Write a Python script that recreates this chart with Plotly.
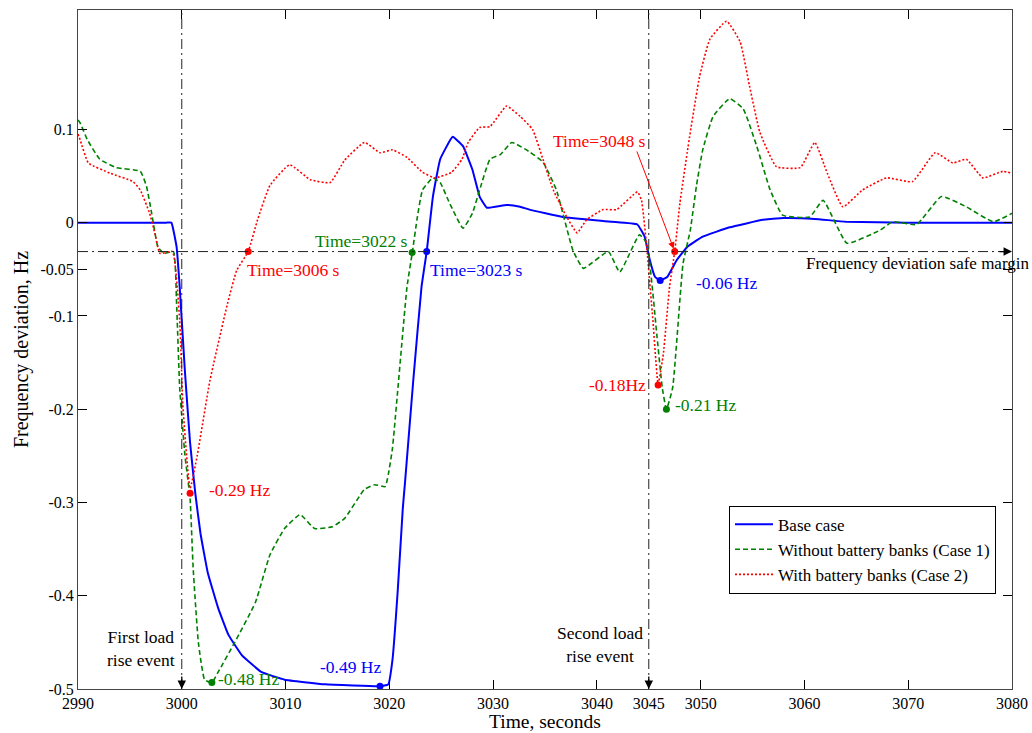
import plotly.graph_objects as go

# ---------------- data ----------------
base_t = [2990, 2998.5, 2999.0, 2999.5, 2999.8, 3000.3, 3000.8, 3001.3, 3001.8, 3002.5, 3003.5, 3004.5,
          3005.8, 3007.7, 3009.9, 3013.8, 3019.1, 3019.9, 3020.3, 3020.8, 3021.3, 3021.5, 3022.3, 3023.1,
          3023.6, 3024.2, 3024.9, 3026.1, 3027.1, 3028.0, 3028.7, 3029.4, 3031.3, 3032.6, 3033.5,
          3036.7, 3041.4, 3043.9, 3044.6, 3045.1, 3045.6, 3046.1, 3046.8, 3047.7, 3048.7, 3050.2,
          3052.8, 3056.0, 3058.0, 3061.0, 3064.0, 3070.0, 3080]
base_v = [0, 0, 0, -0.026, -0.069, -0.159, -0.236, -0.29, -0.333, -0.375, -0.413, -0.442,
          -0.464, -0.482, -0.49, -0.495, -0.497, -0.495, -0.469, -0.396, -0.306, -0.28, -0.17, -0.069,
          -0.031, 0.028, 0.068, 0.092, 0.082, 0.057, 0.028, 0.016, 0.019, 0.017, 0.014,
          0.006, 0.001, -0.002, -0.015, -0.04, -0.058, -0.062, -0.058, -0.04, -0.026, -0.015,
          -0.005, 0.003, 0.005, 0.004, 0.001, 0.0, 0.0]

case1_t = [2990.0, 2990.2, 2990.9, 2992.1, 2993.7, 2996.0, 2996.6, 2997.1, 2997.7, 2998.3, 2999.2,
           2999.5, 2999.8, 3000.3, 3000.8, 3001.1, 3001.6, 3002.2, 3002.9, 3003.5, 3005.1, 3007.1,
           3008.5, 3009.9, 3011.4, 3012.8, 3014.5, 3015.7, 3017.6, 3018.6, 3019.6, 3019.9, 3020.3,
           3021.7, 3022.2, 3022.7, 3023.2, 3024.2, 3024.9, 3025.8, 3027.1, 3028.0, 3028.7, 3029.7,
           3030.7, 3031.8, 3033.5, 3034.8, 3036.1, 3037.7, 3038.7, 3041.1, 3042.2, 3044.1, 3044.8,
           3045.8, 3046.3, 3046.7, 3047.3, 3048.3, 3049.0, 3049.6, 3050.2, 3051.2, 3052.8, 3054.1,
           3055.4, 3056.7, 3057.9, 3060.5, 3061.8, 3064.1, 3067.3, 3068.5, 3070.8, 3073.2, 3075.6,
           3078.2, 3080.0]
case1_v = [0.11, 0.107, 0.089, 0.068, 0.059, 0.055, 0.039, 0.01, -0.026, -0.033, -0.031,
           -0.087, -0.177, -0.249, -0.296, -0.371, -0.45, -0.49, -0.493, -0.482, -0.45, -0.407,
           -0.356, -0.328, -0.313, -0.328, -0.326, -0.317, -0.286, -0.281, -0.283, -0.27, -0.242,
           -0.069, -0.033, 0.006, 0.035, 0.048, 0.043, 0.021, -0.006, 0.01, 0.035, 0.068,
           0.073, 0.086, 0.076, 0.065, 0.035, -0.03, -0.049, -0.031, -0.053, -0.013, -0.022,
           -0.123, -0.177, -0.2, -0.177, -0.044, -0.008, 0.04, 0.078, 0.114, 0.133, 0.122,
           0.082, 0.035, 0.008, 0.006, 0.024, -0.022, -0.008, 0.001, -0.002, 0.028, 0.017,
           0.001, 0.01]

case2_t = [2990.0, 2990.2, 2991.0, 2993.1, 2995.3, 2996.0, 2996.9, 2997.4, 2997.9, 2999.1, 2999.8,
           3000.1, 3000.8, 3001.5, 3002.7, 3004.4, 3005.3, 3006.4, 3007.3, 3008.5, 3010.4, 3012.4,
           3014.3, 3015.7, 3017.6, 3019.1, 3020.3, 3021.7, 3023.2, 3024.4, 3026.0, 3027.0, 3027.6,
           3028.7, 3029.7, 3031.3, 3032.6, 3033.8, 3034.8, 3035.8, 3037.1, 3038.1, 3039.0, 3040.6,
           3041.9, 3043.9, 3044.3, 3044.8, 3045.4, 3045.9, 3046.4, 3047.0, 3047.5, 3048.0, 3048.7,
           3049.0, 3049.9, 3050.9, 3052.5, 3053.8, 3054.7, 3055.7, 3057.3, 3059.6, 3061.0, 3062.2,
           3063.7, 3065.6, 3067.9, 3070.4, 3072.6, 3074.3, 3075.6, 3077.2, 3079.1, 3080.0]
case2_v = [0.095, 0.089, 0.064, 0.053, 0.044, 0.035, 0.01, -0.011, -0.033, -0.031, -0.105,
           -0.195, -0.285, -0.249, -0.17, -0.087, -0.051, -0.031, 0.003, 0.04, 0.062, 0.046,
           0.043, 0.067, 0.086, 0.075, 0.078, 0.07, 0.054, 0.048, 0.054, 0.068, 0.086,
           0.102, 0.103, 0.125, 0.114, 0.1, 0.068, 0.035, 0.006, -0.011, 0.003, 0.014,
           0.014, 0.033, 0.024, -0.026, -0.105, -0.173, -0.141, -0.069, -0.031, 0.021, 0.075,
           0.097, 0.157, 0.197, 0.216, 0.194, 0.147, 0.097, 0.06, 0.059, 0.086, 0.053,
           0.017, 0.035, 0.048, 0.044, 0.075, 0.064, 0.068, 0.048, 0.055, 0.053]

# highlighted points
base_mark_t = [3019.1, 3023.6, 3046.1]
base_mark_v = [-0.497, -0.031, -0.062]
case1_mark_t = [3002.9, 3022.2, 3046.7]
case1_mark_v = [-0.493, -0.032, -0.2]
case2_mark_t = [3000.8, 3006.4, 3045.9, 3047.5]
case2_mark_v = [-0.29, -0.031, -0.174, -0.031]

safe_margin = -0.031
event_times = [3000, 3045]

x_ticks = [2990, 3000, 3010, 3020, 3030, 3040, 3045, 3050, 3060, 3070, 3080]
y_ticks = [0.1, 0, -0.05, -0.1, -0.2, -0.3, -0.4, -0.5]
y_tick_text = ["0.1", "0", "-0.05", "-0.1", "-0.2", "-0.3", "-0.4", "-0.5"]

BLUE = "#0000ff"
GREEN = "#008000"
RED = "#ff0000"
FONT = "Liberation Serif, Times New Roman, serif"
ANN = 17.5

fig = go.Figure()
fig.add_trace(go.Scatter(x=base_t, y=base_v, mode="lines", name="Base case",
                         line=dict(color=BLUE, width=2, shape="spline", smoothing=0.3)))
fig.add_trace(go.Scatter(x=case1_t, y=case1_v, mode="lines", name="Without battery banks (Case 1)",
                         line=dict(color=GREEN, width=1.6, dash="5px,3px", shape="spline", smoothing=0.4)))
fig.add_trace(go.Scatter(x=case2_t, y=case2_v, mode="lines", name="With battery banks (Case 2)",
                         line=dict(color=RED, width=1.6, dash="2px,2px", shape="spline", smoothing=0.4)))

for mt, mv, col in [(base_mark_t, base_mark_v, BLUE), (case1_mark_t, case1_mark_v, GREEN),
                    (case2_mark_t, case2_mark_v, RED)]:
    fig.add_trace(go.Scatter(x=mt, y=mv, mode="markers", showlegend=False,
                             marker=dict(color=col, size=7, line=dict(width=0))))

# reference lines
DD = "10px,4px,2px,4px"
fig.add_shape(type="line", xref="x", yref="y", x0=2990, x1=3080, y0=safe_margin, y1=safe_margin,
              line=dict(color="#222", width=1, dash=DD))
for et in event_times:
    fig.add_shape(type="line", xref="x", yref="paper", x0=et, x1=et, y0=0, y1=1,
                  line=dict(color="#222", width=1, dash=DD))
    fig.add_annotation(x=et, y=-0.5, ax=0, ay=-14, showarrow=True, text="", arrowhead=2,
                       arrowsize=1.3, arrowwidth=1.3, arrowcolor="black")
fig.add_annotation(x=3080, y=safe_margin, ax=-14, ay=0, showarrow=True, text="", arrowhead=2,
                   arrowsize=1.3, arrowwidth=1.3, arrowcolor="black")

def note(text, x, y, color, xanchor="left", size=ANN):
    fig.add_annotation(x=x, y=y, text=text, showarrow=False, xanchor=xanchor, yanchor="middle",
                       font=dict(family=FONT, size=size, color=color))

note("-0.29 Hz", 3002.4, -0.287, RED)
note("Time=3006 s", 3006.1, -0.051, RED)
note("Time=3022 s", 3012.6, -0.02, GREEN)
note("Time=3023 s", 3023.7, -0.051, BLUE)
note("-0.49 Hz", 3019.4, -0.476, BLUE, xanchor="right")
note("-0.48 Hz", 3003.3, -0.489, GREEN)
note("Time=3048 s", 3035.6, 0.0876, RED)
note("-0.06 Hz", 3049.4, -0.065, BLUE)
note("-0.18Hz", 3044.9, -0.174, RED, xanchor="right")
note("-0.21 Hz", 3047.3, -0.196, GREEN)
note("First load<br>rise event", 2996.1, -0.457, "black", xanchor="center")
note("Second load<br>rise event", 3040.3, -0.452, "black", xanchor="center")
fig.add_annotation(xref="paper", x=1.02, y=-0.044, text="Frequency deviation safe margin",
                   showarrow=False, xanchor="right", yanchor="middle",
                   font=dict(family=FONT, size=17, color="black"))
# arrow from "Time=3048 s" to its point
fig.add_annotation(x=3047.5, y=safe_margin, axref="x", ayref="y", ax=3043.8, ay=0.078,
                   showarrow=True, text="", arrowhead=2, arrowsize=1.3, arrowwidth=1,
                   arrowcolor=RED, standoff=3)
# x-axis title placed below the tick labels, flush with the bottom edge
fig.add_annotation(xref="paper", yref="paper", x=0.5, y=-0.0645, text="Time, seconds",
                   showarrow=False, xanchor="center", yanchor="bottom", borderpad=0,
                   font=dict(family=FONT, size=19.5, color="black"))

axis_common = dict(showline=True, linecolor="#444", linewidth=1, mirror="ticks", ticks="inside",
                   ticklen=9, tickcolor="black", showgrid=False, zeroline=False, automargin=False,
                   tickfont=dict(family=FONT, size=16, color="black"))
fig.update_xaxes(range=[2990, 3080], tickvals=x_ticks, **axis_common)
fig.update_yaxes(range=[-0.5, 0.228], tickvals=y_ticks, ticktext=y_tick_text,
                 title=dict(text="Frequency deviation, Hz", font=dict(family=FONT, size=20, color="black"), standoff=6),
                 **axis_common)

fig.update_layout(
    width=1032, height=733,
    margin=dict(l=78, r=20, t=10, b=44),
    plot_bgcolor="white", paper_bgcolor="white",
    font=dict(family=FONT, color="black"),
    legend=dict(x=0.697, y=0.27, xanchor="left", yanchor="top", bgcolor="white",
                bordercolor="black", borderwidth=1, itemwidth=38,
                font=dict(family=FONT, size=17, color="black"), tracegroupgap=0),
)

fig.write_html("out.html", post_script="document.body.style.margin='0';",
               config={"displayModeBar": False})
